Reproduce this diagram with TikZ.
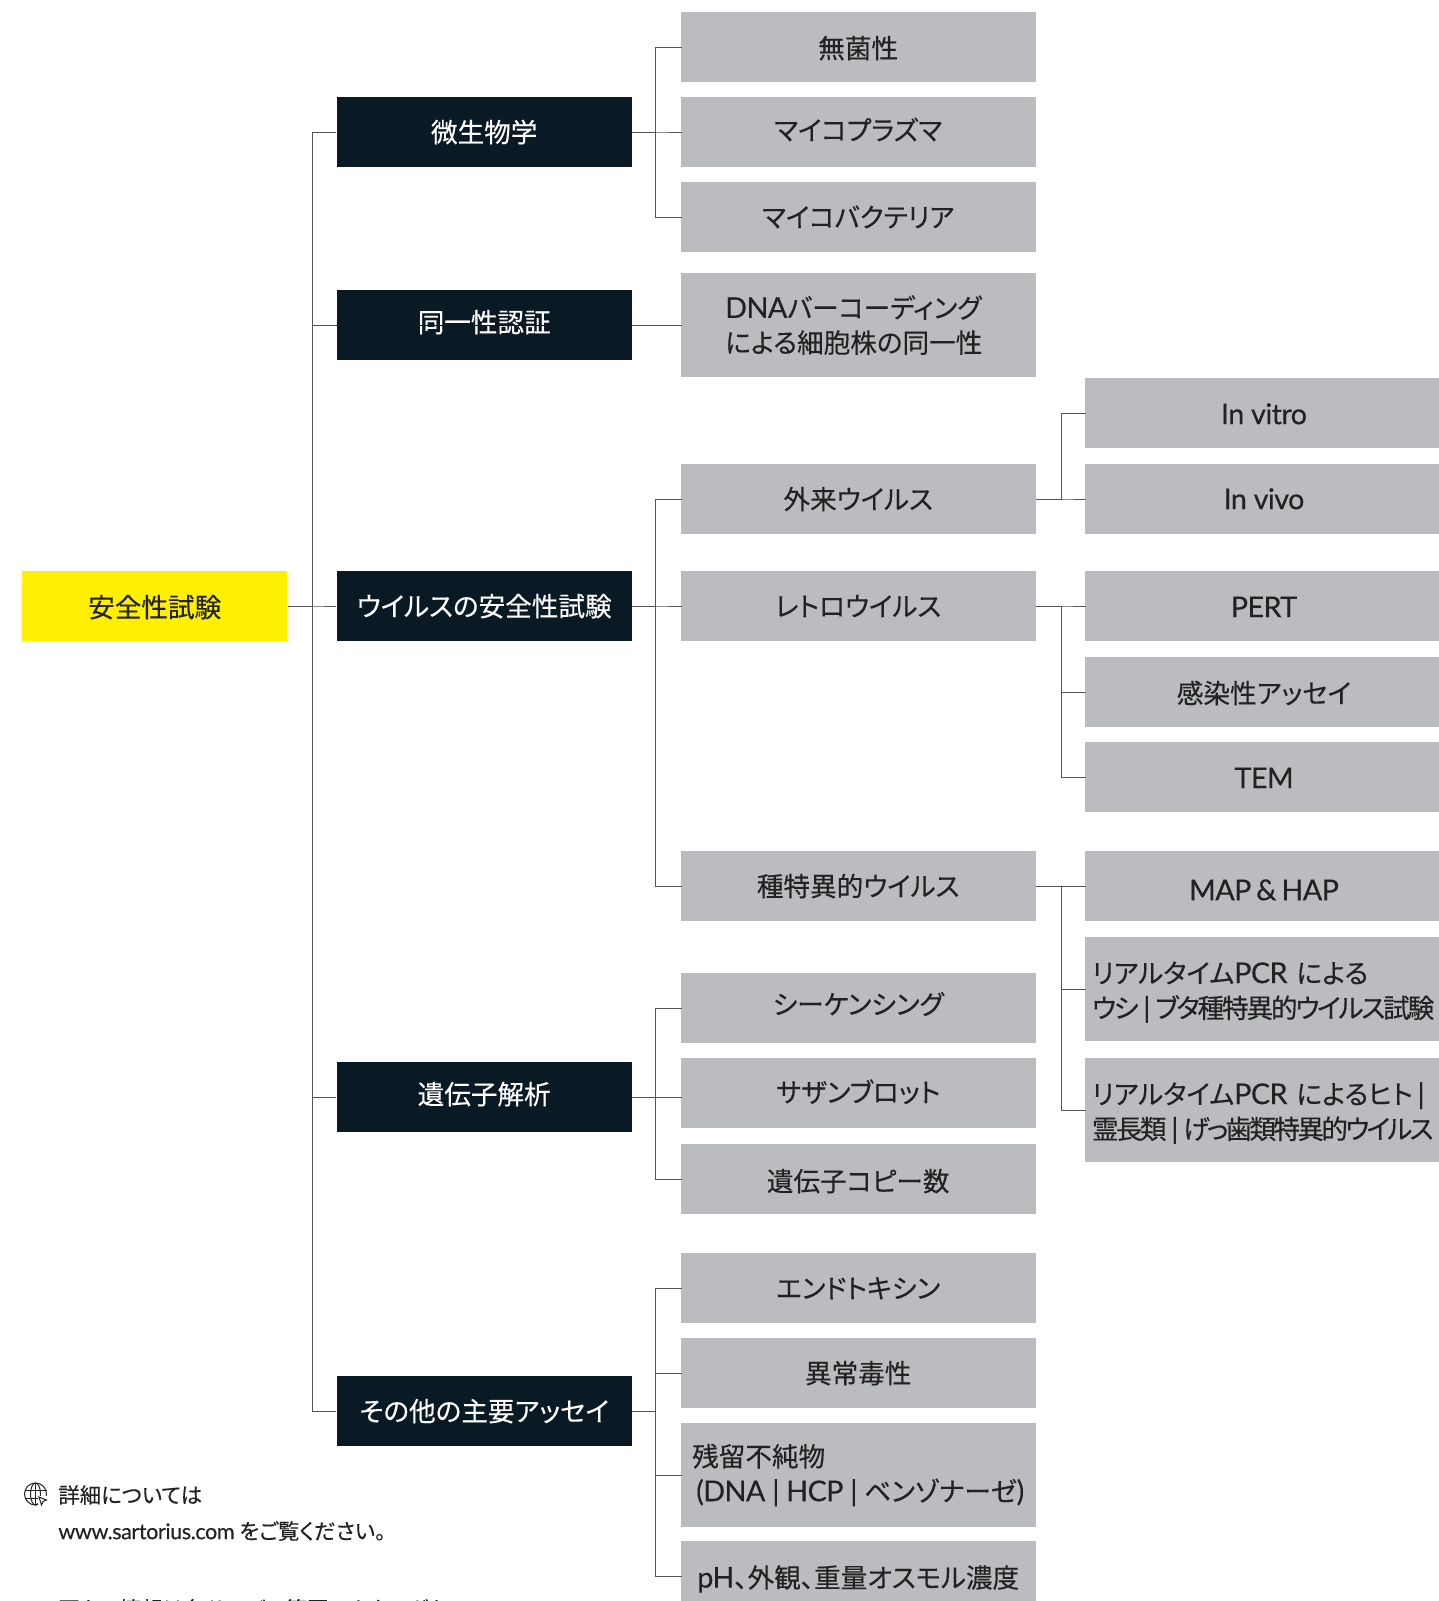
\documentclass[tikz,border=0pt]{standalone}
\usepackage{fontspec}
\setmainfont[RawFeature={+palt},FakeBold=.25]{Noto Sans CJK JP}
\newfontfamily\tightcjk[RawFeature={+palt},FakeBold=.25,LetterSpace=-8]{Noto Sans CJK JP}
\newfontfamily\tightercjk[RawFeature={+palt},FakeBold=.25,LetterSpace=-10]{Noto Sans CJK JP}
\newfontfamily\latn[Scale=1.08,LetterSpace=-2,FakeBold=.25]{Lato}
\usetikzlibrary{positioning}
\definecolor{navy}{HTML}{0A1A24}
\definecolor{silver}{HTML}{BBBCC0}
\definecolor{signal}{HTML}{FFEF00}
\definecolor{wire}{HTML}{555555}
\definecolor{ink}{HTML}{222222}
\tikzset{
  box/.style={rectangle, inner sep=0pt, font=\fontsize{13.3}{17.4}\selectfont, align=center, text height=11.8pt, text depth=1.6pt},
  rootbox/.style={box, fill=signal, text=ink, minimum width=132.5pt, minimum height=35pt},
  darkbox/.style={box, fill=navy, text=white, minimum width=147.5pt, minimum height=35pt},
  midbox/.style={box, fill=silver, text=ink, minimum width=177.5pt, minimum height=35pt},
  farbox/.style={box, fill=silver, text=ink, minimum width=179.5pt, minimum height=35pt},
  tallbox/.style={minimum height=52pt, align=left, text height=, text depth=},
  conn/.style={draw=wire, line width=.5pt},
  into/.style={conn, shorten >=-1pt},
  note/.style={inner sep=0pt, anchor=west, text=ink, font=\fontsize{10.7}{13}\selectfont}
}
\begin{document}
\begin{tikzpicture}[x=.5pt,y=-.5pt]
  \clip (0,0) rectangle (1439,1601);
  \coordinate (busa) at (312.7,0);
  \coordinate (busb) at (655,0);
  \coordinate (busc) at (1061,0);
  % left
  \node[rootbox] (root) at (154.7,606) {\raisebox{-.5pt}{安全性試験}};
  \node[darkbox] (micro) at (484.2,132) {微生物学};
  \node[darkbox] (ident) at (484.2,325) {\raisebox{1.5pt}{同一性認証}};
  \node[darkbox] (virus) at (484.2,606) {ウイルスの安全性試験};
  \node[darkbox] (genetic) at (484.2,1097) {\raisebox{1.5pt}{遺伝子解析}};
  \node[darkbox] (other) at (484.2,1411) {その他の主要アッセイ};
  % middle
  \node[midbox] (sterile) at (858.2,47) {\raisebox{-.5pt}{無菌性}};
  \node[midbox] (myco) at (858.2,132) {\raisebox{1pt}{マイコプラズマ}};
  \node[midbox] (mycobac) at (858.2,217) {マイコバクテリア};
  \node[midbox,tallbox,text width=133pt] (dnabar) at (858.2,325) {{\latn DNA}バーコーディング\\による細胞株の同一性};
  \node[midbox] (advent) at (858.2,499) {外来ウイルス};
  \node[midbox] (retro) at (858.2,606) {レトロウイルス};
  \node[midbox] (species) at (858.2,886) {種特異的ウイルス};
  \node[midbox] (seqg) at (858.2,1008) {\raisebox{2pt}{シーケンシング}};
  \node[midbox] (south) at (858.2,1093) {\raisebox{.5pt}{サザンブロット}};
  \node[midbox] (copy) at (858.2,1179) {\raisebox{-1pt}{遺伝子コピー数}};
  \node[midbox] (endo) at (858.2,1288) {エンドトキシン};
  \node[midbox] (abnormal) at (858.2,1373) {異常毒性};
  \node[midbox,tallbox,text width=166pt] (residual) at (858.2,1475) {残留不純物\\\mbox{\hspace{2pt}{\latn (DNA\hspace{3.4pt}|\hspace{3.4pt}HCP\hspace{3.4pt}|\hspace{3.4pt}}ベンゾナーゼ{\latn )}}};
  \node[midbox] (ph) at (858.2,1576) {\raisebox{-.7pt}{{\latn pH}、外観、重量オスモル濃度}};
  % right
  \node[farbox] (vitro) at (1264,413) {\raisebox{-.5pt}{\latn In vitro}};
  \node[farbox] (vivo) at (1264,499) {\latn In vivo};
  \node[farbox] (pert) at (1264,606) {\raisebox{-.5pt}{\latn PERT}};
  \node[farbox] (infect) at (1264,692) {\raisebox{-.5pt}{感染性アッセイ}};
  \node[farbox] (tem) at (1264,777) {\raisebox{-.5pt}{\latn TEM}};
  \node[farbox] (map) at (1264,886) {\raisebox{-2pt}{\latn MAP\,\&\,HAP}};
  \node[farbox,tallbox,text width=172pt] (bovine) at (1264,989) {\rule{0pt}{14pt}リアルタイム{\latn PCR} による\\{\tightcjk ウシ}{\latn\,|\,}{\tightcjk ブタ種特異的ウイルス試験}};
  \node[farbox,tallbox,text width=172pt] (human) at (1264,1110) {\rule{0pt}{14pt}リアルタイム{\latn PCR} によるヒト{\latn\,|}\\{\tightercjk 霊長類}{\latn\,|\,}{\tightercjk げっ歯類特異的ウイルス}};
  % connectors
  \foreach \n in {micro,ident,virus,genetic,other}
    \draw[conn] (root.east) -- (busa |- root.east) |- (\n.west);
  \foreach \n in {sterile,myco,mycobac}
    \draw[into] (micro.east) -- (busb |- micro.east) |- (\n.west);
  \draw[into] (ident.east) -- (dnabar.west);
  \draw[draw=navy!70!red!60!black, line width=.3pt] (ident.west) -- (ident.east);
  \foreach \n in {advent,retro,species}
    \draw[into] (virus.east) -- (busb |- virus.east) |- (\n.west);
  \foreach \n in {seqg,copy}
    \draw[into] (genetic.east) -- (busb |- genetic.east) |- (\n.west);
  \draw[into] (genetic.east) -- (genetic.east -| south.west);
  \foreach \n in {endo,abnormal,residual,ph}
    \draw[into] (other.east) -- (busb |- other.east) |- (\n.west);
  \foreach \n in {vitro,vivo}
    \draw[into] (advent.east) -- (busc |- advent.east) |- (\n.west);
  \foreach \n in {pert,infect,tem}
    \draw[into] (retro.east) -- (busc |- retro.east) |- (\n.west);
  \foreach \n in {map,bovine,human}
    \draw[into] (species.east) -- (busc |- species.east) |- (\n.west);
  % note
  \begin{scope}[shift={(35.5,1494)},draw=ink,line width=.5pt]
    \draw (0,0) circle (11);
    \draw (0,-11) -- (0,11) (-11,-4) -- (11,-4) (-11,4) -- (11,4);
    \draw (0,0) ellipse (5 and 11);
    \fill[white] (2.5,2) rectangle (13,13);
    \draw (3.5,3) -- (11,6) -- (7.5,7.5) -- (6,11) -- cycle;
  \end{scope}
  \node[note] (more) at (58,1495) {詳細については};
  \node[note] (site) at (58,1531) {{\latn\fontsize{10}{13}\selectfont www.sartorius.com} をご覧ください。};
  \node[note] (catalog) at (58,1609) {更なる情報は各サービス範囲のカタログを};
\end{tikzpicture}
\end{document}
